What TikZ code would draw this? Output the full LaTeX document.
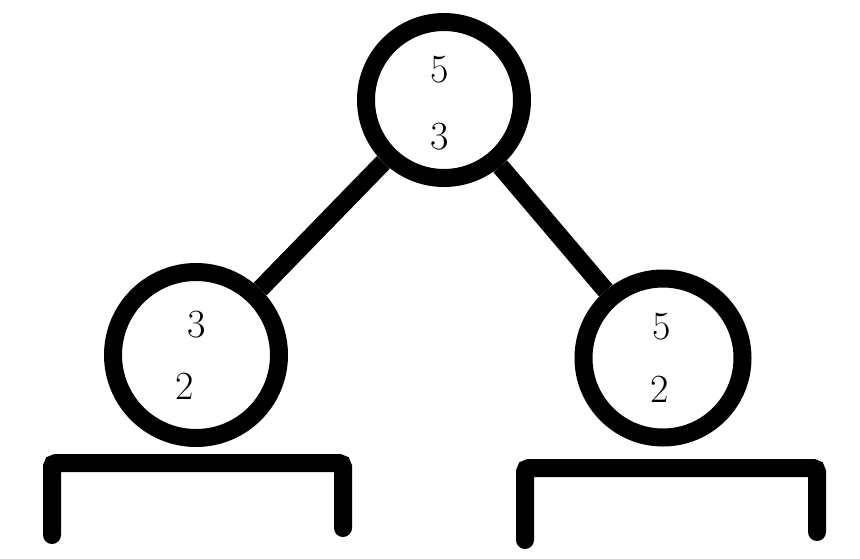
\documentclass[tikz,border=0pt]{standalone}
\usetikzlibrary{positioning}

\begin{document}
\begin{tikzpicture}[x=1pt, y=-1pt,
  vertex/.style={circle, draw, line width=18pt, inner sep=0pt},
  num/.style={font=\fontsize{40}{40}\selectfont, inner sep=0pt},
  edge/.style={line width=18pt},
  shelf/.style={line width=18pt, line cap=round, rounded corners=4pt}
]
\useasboundingbox (0,0) rectangle (860,558);
% tree
\node[vertex, minimum size=156pt] (root)  at (444,100) {};
\node[vertex, minimum size=166pt] (left)  at (196,355) {};
\node[vertex, minimum size=159pt] (right) at (663,358) {};
\draw[edge] (root) -- (left);
\draw[edge] (root) -- (right);
% values
\node[num] (rootA)  at (440, 70) {5};
\node[num] (rootB)  at (440,137) {3};
\node[num] (leftA)  at (197,325) {3};
\node[num] (leftB)  at (185,386) {2};
\node[num] (rightA) at (662,327) {5};
\node[num] (rightB) at (660,389) {2};
% shelves
\draw[shelf] (52,535) -- (52,463) -- (343,463) -- (343,528);
\draw[shelf] (525,540) -- (525,468) -- (817,468) -- (817,532);
\end{tikzpicture}
\end{document}
